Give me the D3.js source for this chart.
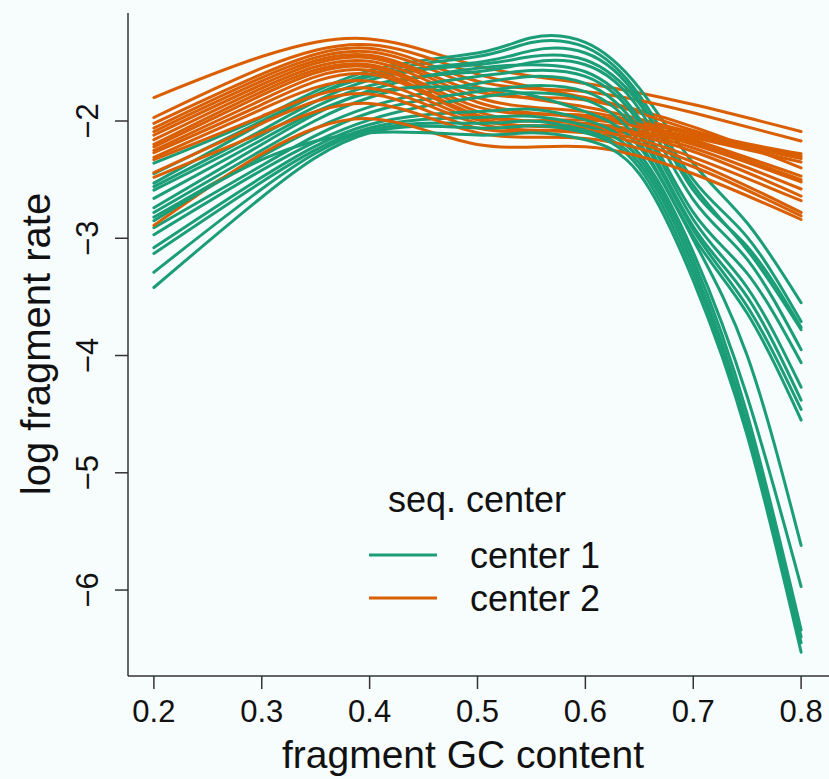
<!DOCTYPE html>
<html>
<head>
<meta charset="utf-8">
<script src="https://cdn.jsdelivr.net/npm/d3@7"></script>
<style>
  html, body { margin: 0; padding: 0; background: #f7fcfd; }
  svg { display: block; font-family: "Liberation Sans", Arial, sans-serif; }
</style>
</head>
<body>
<svg id="chart" width="829" height="779"></svg>
<script>
const gcCenter1 = [0.2, 0.3, 0.4, 0.5, 0.55, 0.6, 0.65, 0.7, 0.75, 0.8];
const gcCenter2 = [0.2, 0.3, 0.4, 0.5, 0.6, 0.7, 0.8];

// center 1 (green) log fragment rate curves
const center1 = [
  [-2.36, -1.97, -1.57, -1.42, -1.29, -1.33, -1.72, -2.36, -2.87, -3.55],
  [-2.53, -2.02, -1.60, -1.45, -1.33, -1.37, -1.78, -2.50, -2.99, -3.71],
  [-2.45, -2.00, -1.62, -1.50, -1.40, -1.42, -1.82, -2.59, -3.07, -3.76],
  [-2.56, -2.08, -1.65, -1.52, -1.45, -1.48, -1.85, -2.55, -3.10, -3.78],
  [-2.59, -2.12, -1.70, -1.58, -1.50, -1.52, -1.90, -2.67, -3.18, -3.95],
  [-2.74, -2.20, -1.74, -1.55, -1.52, -1.58, -1.98, -2.78, -3.30, -4.06],
  [-2.78, -2.25, -1.80, -1.62, -1.57, -1.62, -2.02, -2.84, -3.42, -4.27],
  [-2.82, -2.30, -1.88, -1.68, -1.62, -1.68, -2.08, -2.90, -3.50, -4.38],
  [-2.91, -2.38, -1.93, -1.75, -1.70, -1.75, -2.12, -2.93, -3.58, -4.46],
  [-2.97, -2.42, -1.99, -1.80, -1.76, -1.82, -2.18, -2.98, -3.64, -4.55],
  [-2.66, -2.16, -1.76, -1.72, -1.78, -1.92, -2.22, -3.01, -4.00, -5.62],
  [-3.08, -2.48, -2.03, -1.92, -1.90, -1.99, -2.28, -3.12, -4.35, -5.97],
  [-3.13, -2.52, -2.06, -1.97, -1.96, -2.04, -2.32, -3.18, -4.50, -6.34],
  [-3.29, -2.58, -2.08, -2.02, -2.00, -2.08, -2.36, -3.24, -4.58, -6.40],
  [-3.42, -2.65, -2.10, -2.06, -2.04, -2.10, -2.40, -3.30, -4.62, -6.45],
  [-2.85, -2.33, -2.10, -2.12, -2.10, -2.16, -2.45, -3.36, -4.68, -6.53]
];

// center 2 (orange)
const center2 = [
  [-1.80, -1.45, -1.30, -1.53, -1.68, -1.86, -2.09],
  [-1.97, -1.55, -1.35, -1.60, -1.80, -2.05, -2.40],
  [-2.02, -1.60, -1.38, -1.66, -1.75, -1.93, -2.17],
  [-2.06, -1.63, -1.41, -1.71, -1.88, -2.10, -2.30],
  [-2.09, -1.66, -1.44, -1.75, -1.82, -2.08, -2.28],
  [-2.12, -1.69, -1.46, -1.80, -1.92, -2.12, -2.32],
  [-2.16, -1.72, -1.49, -1.84, -1.97, -2.14, -2.35],
  [-2.20, -1.75, -1.52, -1.88, -1.95, -2.16, -2.47],
  [-2.22, -1.78, -1.54, -1.92, -2.02, -2.20, -2.52],
  [-2.25, -1.82, -1.57, -1.95, -1.99, -2.18, -2.50],
  [-2.27, -1.86, -1.60, -1.97, -2.06, -2.26, -2.64],
  [-2.31, -1.90, -1.66, -1.99, -2.04, -2.23, -2.58],
  [-2.33, -1.96, -1.72, -2.02, -2.10, -2.35, -2.78],
  [-2.44, -2.02, -1.77, -2.06, -2.08, -2.31, -2.68],
  [-2.48, -2.10, -1.85, -2.10, -2.15, -2.39, -2.81],
  [-2.89, -2.28, -1.98, -2.20, -2.22, -2.45, -2.84]
];

const xTicks = [0.2, 0.3, 0.4, 0.5, 0.6, 0.7, 0.8];
const yTicks = [-6, -5, -4, -3, -2];
const seriesNames = ['center 1', 'center 2'];
const colors = ['#1b9e77', '#d95f02'];

const svg = d3.select('#chart');

// R style: data range padded 4% each side
let x = d3.scaleLinear().domain([0.176, 0.824]).range([128, 827]);
let y = d3.scaleLinear().domain([-6.733, -1.079]).range([676, 13]);

function lineFor(gc) {
  return d3.line()
    .x((d, i) => x(gc[i]))
    .y(d => y(d))
    .curve(d3.curveNatural);
}

// interleave the two groups so crossings look mixed
let curves = [];
for (let i = 0; i < Math.max(center1.length, center2.length); i++) {
  if (center2[i]) curves.push({ vals: center2[i], gc: gcCenter2, col: colors[1] });
  if (center1[i]) curves.push({ vals: center1[i], gc: gcCenter1, col: colors[0] });
}

svg.append('g')
  .selectAll('path')
  .data(curves)
  .join('path')
  .attr('d', d => lineFor(d.gc)(d.vals))
  .attr('fill', 'none')
  .attr('stroke', d => d.col)
  .attr('stroke-width', 3)
  .attr('stroke-linecap', 'round');

// axes (L box)
const axisCol = '#333';
svg.append('line')
  .attr('x1', 128).attr('x2', 128).attr('y1', 13).attr('y2', 676)
  .attr('stroke', axisCol).attr('stroke-width', 1.5);
svg.append('line')
  .attr('x1', 128).attr('x2', 829).attr('y1', 676).attr('y2', 676)
  .attr('stroke', axisCol).attr('stroke-width', 1.5);

let xAxis = svg.append('g');
xAxis.selectAll('line')
  .data(xTicks)
  .join('line')
  .attr('x1', d => x(d)).attr('x2', d => x(d))
  .attr('y1', 676).attr('y2', 689)
  .attr('stroke', axisCol).attr('stroke-width', 1.5);
xAxis.selectAll('text')
  .data(xTicks)
  .join('text')
  .attr('x', d => x(d))
  .attr('y', 722)
  .attr('text-anchor', 'middle')
  .attr('font-size', 31)
  .attr('fill', '#111')
  .text(d => d3.format('.1f')(d));

let yAxis = svg.append('g');
yAxis.selectAll('line')
  .data(yTicks)
  .join('line')
  .attr('x1', 115).attr('x2', 128)
  .attr('y1', d => y(d)).attr('y2', d => y(d))
  .attr('stroke', axisCol).attr('stroke-width', 1.5);
yAxis.selectAll('text')
  .data(yTicks)
  .join('text')
  .attr('transform', d => `translate(98,${y(d)}) rotate(-90)`)
  .attr('text-anchor', 'middle')
  .attr('font-size', 31)
  .attr('fill', '#111')
  .text(d => '\u2212' + Math.abs(d));

// axis titles
svg.append('text')
  .attr('x', 463).attr('y', 768)
  .attr('text-anchor', 'middle')
  .attr('font-size', 39)
  .attr('fill', '#111')
  .text('fragment GC content');
svg.append('text')
  .attr('transform', 'translate(50,344) rotate(-90)')
  .attr('text-anchor', 'middle')
  .attr('font-size', 40)
  .attr('fill', '#111')
  .text('log fragment rate');

// legend
let legend = svg.append('g');
legend.append('text')
  .attr('x', 388).attr('y', 512)
  .attr('font-size', 36)
  .attr('fill', '#111')
  .text('seq. center');
seriesNames.forEach((name, i) => {
  let ly = 555 + i * 43;
  legend.append('line')
    .attr('x1', 369).attr('x2', 437)
    .attr('y1', ly).attr('y2', ly)
    .attr('stroke', colors[i]).attr('stroke-width', 3);
  legend.append('text')
    .attr('x', 470).attr('y', ly + 13)
    .attr('font-size', 36)
    .attr('fill', '#111')
    .text(name);
});
</script>
</body>
</html>
